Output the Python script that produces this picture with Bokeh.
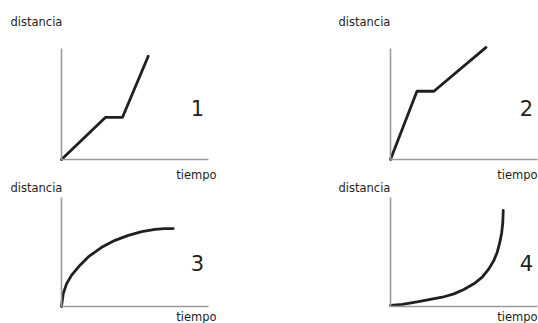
from bokeh.plotting import figure
from bokeh.layouts import column, row
from bokeh.models import Range1d, Label, FixedTicker, LinearAxis
from bokeh.embed import file_html
from bokeh.resources import INLINE

# ---- data (time, distance) for each panel, in arbitrary units 0..10 ----
t1 = [0, 3.0, 4.15, 5.9]
d1 = [0, 3.8, 3.8, 9.3]

t2 = [0, 1.8, 2.95, 6.5]
d2 = [0, 6.15, 6.15, 10.1]

t3 = [0.0, 0.01, 0.12, 0.35, 0.69, 1.26, 1.82, 2.73, 3.64, 4.55, 5.46, 6.36, 7.0, 7.6]
d3 = [0.0, 0.14, 1.19, 2.10, 2.88, 3.79, 4.55, 5.43, 6.07, 6.53, 6.87, 7.08, 7.14, 7.15]

t4 = [0.0, 0.8, 1.9, 3.52, 4.31, 4.99, 5.67, 6.24, 6.69, 7.03, 7.26, 7.44, 7.57, 7.64, 7.67]
d4 = [0.1, 0.2, 0.44, 0.85, 1.16, 1.56, 2.08, 2.69, 3.45, 4.22, 4.98, 5.90, 6.82, 7.73, 8.81]

panel_numbers = ["1", "2", "3", "4"]
y_title = "distancia"
x_title = "tiempo"

INK = "#231f20"
AXIS = "#9a9a9a"
FONT = "DejaVu Sans"
SPAN = 10.0  # data units spanned by each drawn axis


def panel(t, d, num, width, height, box_left, box_top, box_w, box_h,
          dist_dx, dist_dy, tiempo_dx, tiempo_dy, num_dx, num_dy):
    box_bottom = box_top + box_h
    sx = box_w / SPAN
    sy = box_h / SPAN
    p = figure(width=width, height=height, output_backend="svg", toolbar_location=None,
               x_range=Range1d(-box_left / sx, (width - box_left) / sx),
               y_range=Range1d(-(height - box_bottom) / sy, box_bottom / sy),
               x_axis_location=None, y_axis_location=None,
               min_border=0, min_border_left=0, min_border_right=0,
               min_border_top=0, min_border_bottom=0)
    p.outline_line_color = None
    p.background_fill_color = "white"
    p.border_fill_color = "white"
    for g in p.grid:
        g.visible = False

    xax = LinearAxis(fixed_location=0, bounds=(0, SPAN))
    yax = LinearAxis(fixed_location=0, bounds=(0, SPAN))
    for ax in (xax, yax):
        ax.ticker = FixedTicker(ticks=[])
        ax.major_label_text_font_size = "0px"
        ax.major_tick_out = 0
        ax.major_tick_in = 0
        ax.minor_tick_out = 0
        ax.minor_tick_in = 0
        ax.axis_line_color = AXIS
        ax.axis_line_width = 1.6
    p.add_layout(xax, "below")
    p.add_layout(yax, "left")

    p.line(t, d, line_color=INK, line_width=2.8, line_join="round", line_cap="round")

    p.add_layout(Label(x=0, y=SPAN, text=y_title,
                       x_offset=dist_dx, y_offset=dist_dy,
                       text_align="left", text_baseline="middle",
                       text_font=FONT, text_font_size="11.5px", text_color=INK))
    p.add_layout(Label(x=SPAN, y=0, text=x_title,
                       x_offset=tiempo_dx, y_offset=tiempo_dy,
                       text_align="right", text_baseline="middle",
                       text_font=FONT, text_font_size="11.5px", text_color=INK))
    p.add_layout(Label(x=0, y=0, text=num,
                       x_offset=num_dx, y_offset=num_dy,
                       text_align="center", text_baseline="middle",
                       text_font=FONT, text_font_size="21px", text_color=INK))
    return p


W = 269
H_TOP = 181
H_BOT = 142

f1 = panel(t1, d1, panel_numbers[0], W, H_TOP, 61, 48, 147, 111, -51, 26.5, 8, -15, 136, 52)
f2 = panel(t2, d2, panel_numbers[1], W, H_TOP, 121, 48, 147, 111, -52, 26.5, 0, -15, 136, 52)
f3 = panel(t3, d3, panel_numbers[2], W, H_BOT, 61, 16, 147, 109, -51, 10, 8, -10.5, 136, 44)
f4 = panel(t4, d4, panel_numbers[3], W, H_BOT, 121, 16, 147, 109, -52, 10, 0, -10.5, 136, 44)

layout = column(row(f1, f2, spacing=0), row(f3, f4, spacing=0), spacing=0)

open("out.html", "w").write(file_html(layout, INLINE))
